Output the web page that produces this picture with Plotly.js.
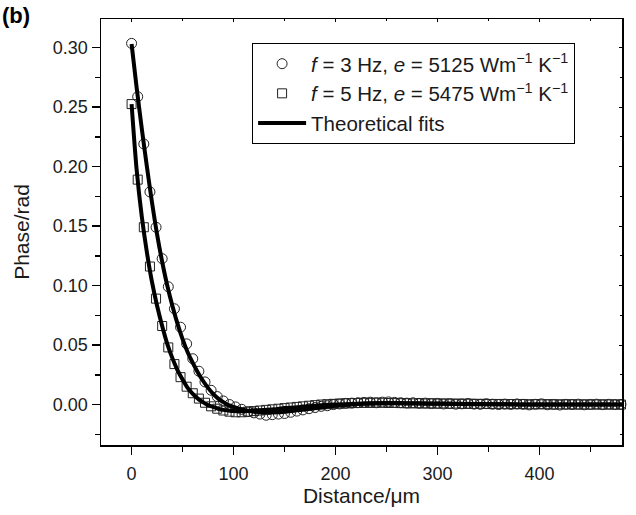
<!DOCTYPE html>
<html>
<head>
<meta charset="utf-8">
<script src="https://cdn.plot.ly/plotly-3.0.1.min.js"></script>
<style>html,body{margin:0;padding:0;background:#fff;}#chart{width:636px;height:515px;}</style>
</head>
<body>
<div id="chart"></div>
<script>
// Measured positions (µm)
const distance = [0,6,12,18,24,30,36,42,48,54,60,66,72,78,84,90,96,102,108,114,120,126,132,138,144,150,156,162,168,174,180,186,192,198,204,210,216,222,228,234,240,246,252,258,264,270,276,282,288,294,300,306,312,318,324,330,336,342,348,354,360,366,372,378,384,390,396,402,408,414,420,426,432,438,444,450,456,462,468,474,480,486];
// f = 3 Hz data (circles)
const phase3Hz = [0.3035,0.2587,0.219,0.1787,0.149,0.1226,0.099,0.0805,0.065,0.051,0.0385,0.028,0.019,0.012,0.0067,0.003,0.0,-0.002,-0.004,-0.006,-0.007,-0.008,-0.009,-0.0085,-0.008,-0.0075,-0.0065,-0.0055,-0.0045,-0.0035,-0.0025,-0.0015,-0.001,0.0,0.0005,0.001,0.0012,0.0015,0.0018,0.002,0.0015,0.002,0.0022,0.0018,0.0015,0.0012,0.0015,0.001,0.0012,0.0008,0.001,0.0005,0.0008,0.0003,0.0006,0.0009,0.0004,0.0002,0.0007,0.0003,0.0,0.0004,0.0001,0.0005,0.0002,-0.0003,0.0002,0.0006,-0.0002,0.0001,-0.0004,0.0002,0.0,0.0003,-0.0002,0.0001,0.0003,-0.0001,0.0002,0.0,0.0001,0.0];
// f = 5 Hz data (squares)
const phase5Hz = [0.2525,0.189,0.149,0.116,0.089,0.066,0.048,0.034,0.023,0.015,0.0095,0.005,0.0015,-0.0015,-0.0035,-0.005,-0.006,-0.0065,-0.0065,-0.006,-0.0055,-0.005,-0.0045,-0.004,-0.0035,-0.003,-0.0025,-0.002,-0.0015,-0.001,-0.0005,0.0,0.0003,0.0006,0.0008,0.001,0.0012,0.0013,0.0015,0.0014,0.0016,0.0015,0.0013,0.0014,0.0012,0.0011,0.001,0.0011,0.0009,0.001,0.0008,0.0009,0.0007,0.0008,0.0006,0.0007,0.0005,0.0006,0.0005,0.0004,0.0005,0.0003,0.0004,0.0003,0.0004,0.0002,0.0003,0.0002,0.0003,0.0001,0.0002,0.0001,0.0002,0.0,0.0001,0.0,0.0001,0.0,0.0001,0.0,0.0,0.0];
// Theoretical fits
const fitDistance = [0,5,10,15,20,25,30,35,40,45,50,55,60,65,70,75,80,85,90,95,100,110,120,130,140,150,160,180,200,220,240,260,280,300,340,380,420,460,481];
const fit3Hz = [0.303,0.266,0.232,0.200,0.170,0.143,0.120,0.100,0.083,0.068,0.055,0.044,0.035,0.027,0.020,0.014,0.009,0.005,0.002,-0.0005,-0.002,-0.0045,-0.006,-0.0065,-0.0065,-0.006,-0.005,-0.003,-0.001,0.0003,0.001,0.0012,0.001,0.0008,0.0004,0.0001,0.0,0.0,0.0];
const fit5Hz = [0.2525,0.197,0.158,0.128,0.103,0.083,0.066,0.051,0.039,0.029,0.021,0.014,0.009,0.005,0.002,-0.0005,-0.002,-0.0035,-0.0045,-0.005,-0.0055,-0.0055,-0.005,-0.0045,-0.004,-0.003,-0.0025,-0.001,0.0,0.0006,0.001,0.001,0.0008,0.0006,0.0003,0.0001,0.0,0.0,0.0];
// Labels
const legend3 = '<i>f</i> = 3 Hz, <i>e</i> = 5125 Wm<sup>\u22121</sup> K<sup>\u22121</sup>';
const legend5 = '<i>f</i> = 5 Hz, <i>e</i> = 5475 Wm<sup>\u22121</sup> K<sup>\u22121</sup>';
const legendFit = 'Theoretical fits';
const xTitle = 'Distance/\u03bcm';
const yTitle = 'Phase/rad';
const panelLabel = '<b>(b)</b>';

const FONT = 'Liberation Sans, Arial, Helvetica, sans-serif';
const xRange = [-30, 481];
const yRange = [-0.034, 0.324];

const traces = [
  {x: distance, y: phase3Hz, name: legend3, type: 'scatter', mode: 'markers', cliponaxis: false,
   marker: {symbol: 'circle-open', size: 10, color: '#222', line: {width: 1, color: '#222'}}},
  {x: distance, y: phase5Hz, name: legend5, type: 'scatter', mode: 'markers', cliponaxis: false,
   marker: {symbol: 'square-open', size: 9, color: '#222', line: {width: 1, color: '#222'}}},
  {x: fitDistance, y: fit3Hz, name: legendFit, type: 'scatter', mode: 'lines',
   line: {color: '#000', width: 4, shape: 'spline', smoothing: 0.8}},
  {x: fitDistance, y: fit5Hz, name: legendFit, type: 'scatter', mode: 'lines', showlegend: false,
   line: {color: '#000', width: 4, shape: 'spline', smoothing: 0.8}},
  {x: [], y: [], xaxis: 'x2', yaxis: 'y2', showlegend: false, hoverinfo: 'skip'}
];

const layout = {
  width: 636, height: 515,
  margin: {l: 101, r: 14, t: 19, b: 70},
  paper_bgcolor: '#fff', plot_bgcolor: '#fff',
  font: {family: FONT, color: '#1a1a1a', size: 18},
  showlegend: true,
  legend: {x: 0.29, y: 0.944, xanchor: 'left', yanchor: 'top', bgcolor: '#fff',
           bordercolor: '#000', borderwidth: 1, font: {size: 20.5, family: FONT},
           itemwidth: 48, tracegroupgap: 0},
  xaxis: {range: xRange, showgrid: false, zeroline: false, showline: true, linecolor: '#000', linewidth: 1.5,
          mirror: true, ticks: 'outside', ticklen: 8, tickwidth: 1.5, tickcolor: '#000',
          tick0: 0, dtick: 100, tickfont: {size: 18}, ticklabelstandoff: 4,
          minor: {ticks: 'outside', ticklen: 5, tickwidth: 1.5, tickcolor: '#000', dtick: 50, tick0: 0},
          title: {text: xTitle, font: {size: 21}, standoff: 4}},
  yaxis: {range: yRange, showgrid: false, zeroline: false, showline: true, linecolor: '#000', linewidth: 1.5,
          mirror: true, ticks: 'outside', ticklen: 8, tickwidth: 1.5, tickcolor: '#000',
          tick0: 0, dtick: 0.05, tickformat: '.2f', tickfont: {size: 18},
          minor: {ticks: 'outside', ticklen: 5, tickwidth: 1.5, tickcolor: '#000', dtick: 0.025, tick0: 0},
          title: {text: yTitle, font: {size: 21}, standoff: 17}},
  xaxis2: {overlaying: 'x', side: 'top', range: xRange, showgrid: false, zeroline: false, showline: false,
           showticklabels: false, ticks: 'inside', ticklen: 3, tickwidth: 1, tickcolor: '#000', tick0: 0, dtick: 100,
           minor: {ticks: 'inside', ticklen: 2, tickwidth: 1, tickcolor: '#000', dtick: 50, tick0: 0}},
  yaxis2: {overlaying: 'y', side: 'right', range: yRange, showgrid: false, zeroline: false, showline: false,
           showticklabels: false, ticks: 'inside', ticklen: 3, tickwidth: 1, tickcolor: '#000', tick0: 0, dtick: 0.05,
           minor: {ticks: 'inside', ticklen: 2, tickwidth: 1, tickcolor: '#000', dtick: 0.025, tick0: 0}},
  annotations: [{text: panelLabel, xref: 'paper', yref: 'paper', x: -0.194, y: 1.008, xanchor: 'left', yanchor: 'middle',
                 showarrow: false, font: {size: 22, family: FONT, color: '#000'}}]
};

Plotly.newPlot('chart', traces, layout, {staticPlot: true, displayModeBar: false});
</script>
</body>
</html>
